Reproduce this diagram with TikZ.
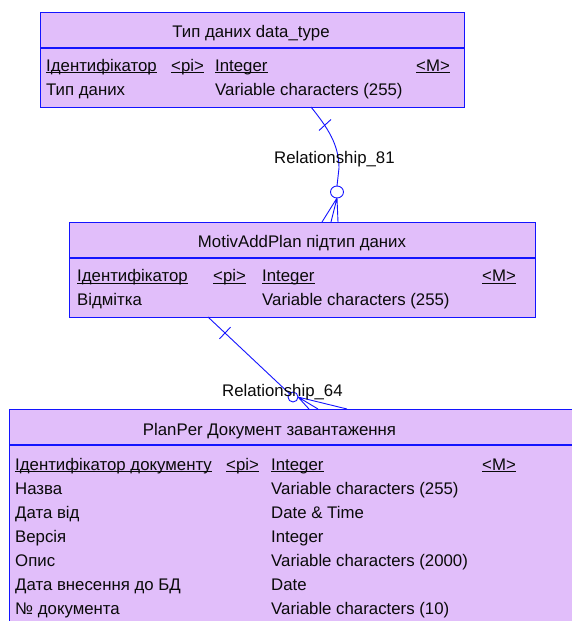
\documentclass[tikz,border=0pt]{standalone}
\usepackage{fontspec}
\setmainfont{Liberation Sans}
\definecolor{entfill}{RGB}{225,190,250}
\definecolor{entline}{RGB}{20,20,255}
\definecolor{txt}{RGB}{10,10,10}
% underline drawn just below the baseline, crossing descenders
\newcommand\ulx[1]{\setbox0\hbox{#1}\rlap{\rule[-1.9pt]{\wd0}{0.9pt}}\box0}
\tikzset{
  entity/.style={draw=entline, line width=1.1pt, fill=entfill, inner sep=0pt, anchor=north west},
  divider/.style={draw=entline, line width=1.1pt},
  rel/.style={draw=entline, line width=0.9pt},
  cell/.style={inner sep=0pt, anchor=base west, text=txt, font=\fontsize{16.8}{20}\selectfont},
  ttl/.style={inner sep=0pt, anchor=base, text=txt, font=\fontsize{16.8}{20}\selectfont},
  rlabel/.style={inner sep=0pt, anchor=base west, text=txt, font=\fontsize{16.8}{20}\selectfont},
}
\begin{document}
\begin{tikzpicture}[x=1pt, y=-1pt]
\useasboundingbox (0,0) rectangle (572,621);
\fill[white] (0,0) rectangle (572,621);

% ---- entity: data_type ----
\node[entity, minimum width=424pt, minimum height=95pt] (e1) at (40,12) {};
\draw[divider] (40,48) -- (464,48);
\node[ttl] (e1t) at (251,37.5) {Тип даних data\_type};
\node[cell] (e1a) at (46,71) {\ulx{Ідентифікатор}};
\node[cell] (e1b) at (171,71) {\ulx{<pi>}};
\node[cell] (e1c) at (215,71) {\ulx{Integer}};
\node[cell] (e1d) at (416,71) {\ulx{<M>}};
\node[cell] (e1e) at (46,95) {Тип даних};
\node[cell] (e1f) at (215,95) {Variable characters (255)};

% ---- entity: MotivAddPlan ----
\node[entity, minimum width=466pt, minimum height=95pt] (e2) at (69,222) {};
\draw[divider] (69,258) -- (535,258);
\node[ttl] (e2t) at (302,247) {MotivAddPlan підтип даних};
\node[cell] (e2a) at (77,281.5) {\ulx{Ідентифікатор}};
\node[cell] (e2b) at (213,281.5) {\ulx{<pi>}};
\node[cell] (e2c) at (262,281.5) {\ulx{Integer}};
\node[cell] (e2d) at (482,281.5) {\ulx{<M>}};
\node[cell] (e2e) at (77,305.5) {Відмітка};
\node[cell] (e2f) at (262,305.5) {Variable characters (255)};

% ---- entity: PlanPer (runs past the right and bottom edges) ----
\node[entity, minimum width=580pt, minimum height=230pt] (e3) at (9,409) {};
\draw[divider] (9,445) -- (590,445);
\node[ttl] (e3t) at (269.5,435) {PlanPer Документ завантаження};
\node[cell] (r0a) at (15,470) {\ulx{Ідентифікатор документу}};
\node[cell] (r0b) at (226,470) {\ulx{<pi>}};
\node[cell] (r0c) at (271,470) {\ulx{Integer}};
\node[cell] (r0d) at (482,470) {\ulx{<M>}};
\node[cell] (r1a) at (15,494) {Назва};
\node[cell] (r1c) at (271,494) {Variable characters (255)};
\node[cell] (r2a) at (15,518) {Дата від};
\node[cell] (r2c) at (271,518) {Date \& Time};
\node[cell] (r3a) at (15,542) {Версія};
\node[cell] (r3c) at (271,542) {Integer};
\node[cell] (r4a) at (15,566) {Опис};
\node[cell] (r4c) at (271,566) {Variable characters (2000)};
\node[cell] (r5a) at (15,590) {Дата внесення до БД};
\node[cell] (r5c) at (271,590) {Date};
\node[cell] (r6a) at (15,614) {№ документа};
\node[cell] (r6c) at (271,614) {Variable characters (10)};

% ---- Relationship_81 : data_type -> MotivAddPlan ----
\coordinate (a81) at (311,107);
\coordinate (o81) at (337,192);
\coordinate (f81) at (337,198);
\coordinate (f81a) at (322,222);
\coordinate (f81b) at (331,222);
\coordinate (f81c) at (338,222);
\draw[rel] (a81) .. controls (328,128) and (339,145) .. (339,168) -- (337,186);
\draw[rel] (319,130.5) -- (331,119.5);
\draw[rel] (o81) circle[x radius=6.5pt, y radius=6pt];
\draw[rel] (f81) -- (f81a) (f81) -- (f81b) (f81) -- (f81c);
\node[rlabel] (l81) at (274,163) {Relationship\_81};

% ---- Relationship_64 : MotivAddPlan -> PlanPer ----
\coordinate (a64) at (208,317);
\coordinate (o64) at (293,397);
\coordinate (f64) at (298,397);
\coordinate (f64a) at (309,409);
\coordinate (f64b) at (318,409);
\coordinate (f64c) at (347,409);
\draw[rel] (a64) -- (289.4,393.6);
\draw[rel] (219.5,338.8) -- (230.5,327.2);
\draw[rel] (o64) circle[radius=5pt];
\draw[rel] (f64) -- (f64a) (f64) -- (f64b) (f64) -- (f64c);
\node[rlabel] (l64) at (222,396.5) {Relationship\_64};
\end{tikzpicture}
\end{document}
